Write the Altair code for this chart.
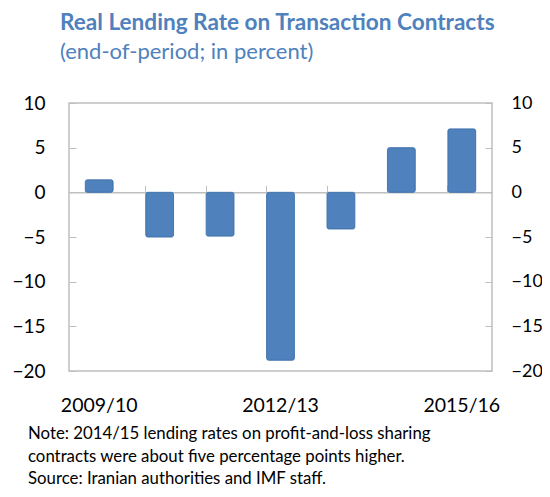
import altair as alt
import pandas as pd

periods = ["2009/10", "2010/11", "2011/12", "2012/13", "2013/14", "2014/15", "2015/16"]
values = [1.4, -5.0, -4.9, -18.8, -4.1, 5.0, 7.1]
shown_labels = ["2009/10", "2012/13", "2015/16"]
y_ticks = [10, 5, 0, -5, -10, -15, -20]

title_text = "Real Lending Rate on Transaction Contracts"
subtitle_text = "(end-of-period; in percent)"
note_lines = [
    "Note: 2014/15 lending rates on  profit-and-loss sharing",
    "contracts were about five percentage points higher.",
    "Source: Iranian authorities  and IMF staff.",
]

df = pd.DataFrame({"period": periods, "value": values})

W, H = 423, 268
FONT = "Lato"
BLUE = "#4F81BD"
GRAY = "#BFBFBF"

label_expr = "indexof(" + str(shown_labels) + ", datum.value) >= 0 ? datum.value : ''"

xscale = alt.Scale(domain=periods, paddingInner=0.54, paddingOuter=0.27)
yscale = alt.Scale(domain=[-20, 10], nice=False, zero=False)

base = alt.Chart(df)

bars = base.mark_bar(color=BLUE, stroke="#4577B0", strokeWidth=1, cornerRadius=2).encode(
    x=alt.X("period:N", sort=periods, scale=xscale, title=None,
            axis=alt.Axis(orient="bottom", ticks=False, domain=False, labelExpr=label_expr,
                          labelAngle=0, labelPadding=25, labelFontSize=19.5, labelFont=FONT,
                          labelColor="#000000", grid=False)),
    y=alt.Y("value:Q", scale=yscale, title=None,
            axis=alt.Axis(orient="left", values=y_ticks, offset=-7, tickSize=7, tickColor=GRAY,
                          domain=False, grid=False, labelPadding=24, labelFontSize=19,
                          labelFont=FONT, labelColor="#000000")),
)

ghost = base.mark_bar(opacity=0).encode(
    x=alt.X("period:N", sort=periods, scale=xscale, title=None,
            axis=alt.Axis(orient="top", offset=-H * 10 / 30, labels=False, bandPosition=0,
                          tickSize=7, tickColor=GRAY, domain=True, domainColor=GRAY,
                          domainWidth=1.5, grid=False)),
    y=alt.Y("value:Q", scale=yscale, title=None,
            axis=alt.Axis(orient="right", values=y_ticks, offset=-7, tickSize=7, tickColor=GRAY,
                          domain=False, grid=False, labelPadding=19, labelFontSize=18,
                          labelFont=FONT, labelColor="#000000")),
)

def txt(s, x, y, size, bold=False, color="#000000"):
    return alt.Chart(pd.DataFrame({"t": [s]})).mark_text(
        align="left", baseline="alphabetic", fontSize=size, font=FONT,
        fontWeight="bold" if bold else "normal", color=color
    ).encode(x=alt.value(x), y=alt.value(y), text="t:N")

texts = [
    txt(title_text, -9, -73, 22.6, bold=True, color=BLUE),
    txt(subtitle_text, -9, -44, 22, color=BLUE),
    txt(note_lines[0], -41, 336, 16.8),
    txt(note_lines[1], -41, 359, 16.8),
    txt(note_lines[2], -41, 381, 16.8),
]

chart = alt.layer(bars, ghost, *texts).resolve_axis(x="independent", y="independent").properties(
    width=W, height=H,
    autosize=alt.AutoSizeParams(type="none"),
    padding={"left": 61, "top": 95, "right": 50, "bottom": 118},
).configure_view(stroke=GRAY, strokeWidth=1.5)

chart.save("out.html", embed_options={"renderer": "svg", "actions": False})
